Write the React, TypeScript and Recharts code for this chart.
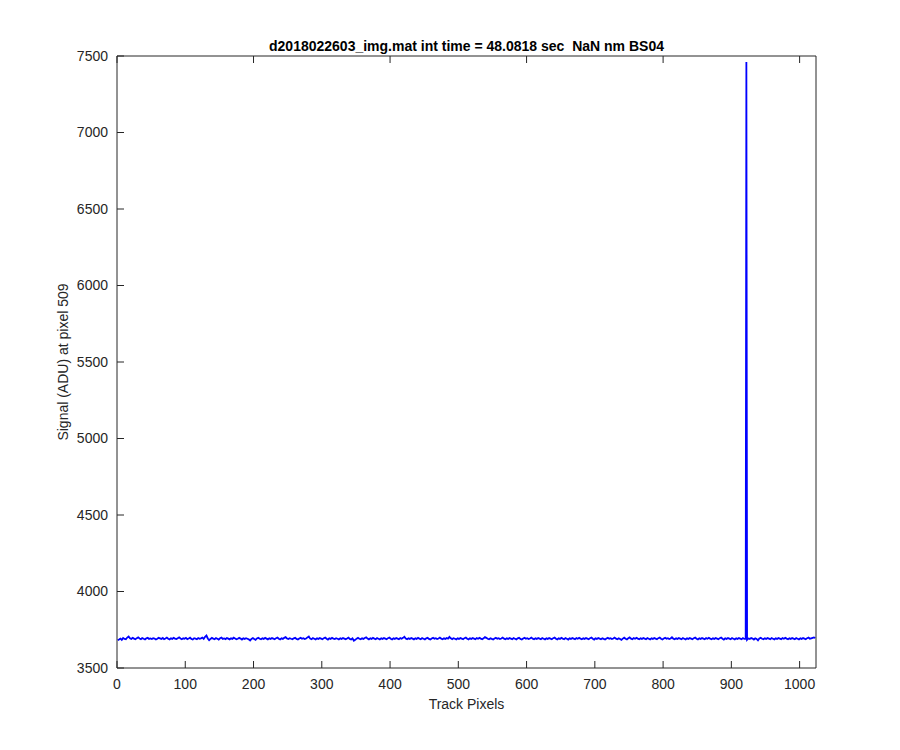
import React from 'react'
import { LineChart, Line, XAxis, YAxis } from 'recharts'

// signal sampled at every other track pixel (1, 3, 5, ... 1023)
const signal = [
  3681, 3686, 3692, 3684, 3696, 3690, 3688, 3699, 3706, 3694, 3690, 3697, 3692, 3688, 3695, 3700,
  3693, 3689, 3696, 3691, 3687, 3694, 3698, 3690, 3693, 3689, 3695, 3692, 3686, 3691, 3697, 3694,
  3690, 3696, 3688, 3693, 3699, 3691, 3687, 3694, 3690, 3697, 3692, 3689, 3695, 3700, 3693, 3688,
  3694, 3691, 3697, 3689, 3693, 3698, 3690, 3686, 3695, 3692, 3688, 3696, 3691, 3694, 3699, 3690,
  3704, 3712, 3693, 3682, 3690, 3697, 3692, 3688, 3695, 3691, 3686, 3694, 3699, 3690, 3693, 3689,
  3696, 3692, 3687, 3694, 3690, 3698, 3693, 3688, 3691, 3697, 3692, 3686, 3694, 3690, 3695, 3691,
  3687, 3680, 3690, 3696, 3689, 3684, 3693, 3698, 3691, 3688, 3694, 3690, 3697, 3692, 3687, 3694,
  3690, 3696, 3692, 3688, 3695, 3699, 3691, 3687, 3694, 3690, 3697, 3702, 3693, 3689, 3695, 3691,
  3688, 3694, 3698, 3690, 3686, 3693, 3697, 3691, 3695, 3689, 3693, 3700, 3706, 3692, 3688, 3695,
  3691, 3687, 3694, 3690, 3696, 3692, 3688, 3695, 3699, 3691, 3686, 3694, 3690, 3697, 3692, 3689,
  3695, 3691, 3687, 3694, 3690, 3696, 3692, 3688, 3693, 3699, 3690, 3686, 3694, 3678, 3684, 3692,
  3697, 3691, 3688, 3694, 3690, 3696, 3701, 3692, 3687, 3694, 3690, 3697, 3692, 3688, 3695, 3691,
  3687, 3694, 3690, 3696, 3692, 3688, 3695, 3699, 3691, 3687, 3694, 3690, 3696, 3692, 3688, 3695,
  3691, 3697, 3704, 3693, 3688, 3694, 3690, 3696, 3692, 3687, 3694, 3690, 3697, 3692, 3688, 3695,
  3691, 3687, 3694, 3698, 3690, 3686, 3693, 3697, 3691, 3695, 3689, 3693, 3699, 3692, 3688, 3694,
  3690, 3696, 3692, 3703, 3694, 3689, 3695, 3691, 3687, 3694, 3690, 3696, 3692, 3688, 3695, 3699,
  3691, 3687, 3694, 3690, 3696, 3692, 3688, 3695, 3691, 3697, 3692, 3688, 3694, 3702, 3697, 3691,
  3688, 3694, 3690, 3686, 3693, 3697, 3691, 3695, 3689, 3693, 3699, 3692, 3688, 3694, 3690, 3696,
  3692, 3688, 3695, 3691, 3687, 3694, 3698, 3690, 3686, 3693, 3697, 3691, 3695, 3689, 3693, 3699,
  3692, 3688, 3694, 3690, 3696, 3692, 3688, 3695, 3691, 3687, 3694, 3690, 3696, 3692, 3688, 3695,
  3699, 3691, 3687, 3694, 3690, 3697, 3692, 3688, 3695, 3691, 3686, 3694, 3690, 3696, 3692, 3688,
  3695, 3691, 3697, 3692, 3688, 3694, 3690, 3696, 3692, 3688, 3695, 3699, 3691, 3686, 3694, 3690,
  3696, 3692, 3688, 3694, 3690, 3686, 3693, 3697, 3691, 3695, 3689, 3693, 3699, 3692, 3688, 3694,
  3690, 3684, 3692, 3698, 3691, 3687, 3694, 3700, 3692, 3688, 3695, 3691, 3697, 3692, 3688, 3694,
  3690, 3696, 3692, 3688, 3695, 3691, 3687, 3694, 3690, 3696, 3692, 3688, 3695, 3699, 3691, 3686,
  3693, 3697, 3691, 3695, 3689, 3693, 3701, 3692, 3688, 3694, 3690, 3696, 3692, 3688, 3695, 3691,
  3687, 3694, 3690, 3696, 3692, 3688, 3695, 3699, 3691, 3687, 3694, 3690, 3696, 3692, 3688, 3695,
  3691, 3697, 3692, 3688, 3694, 3690, 3696, 3692, 3688, 3695, 3699, 3691, 3686, 3694, 3690, 3696,
  3692, 3688, 3695, 3691, 3687, 3694, 3690, 3696, 3692, 3688, 3695, 3690, 3691, 3684, 3693, 3690,
  3696, 3692, 3686, 3694, 3690, 3681, 3693, 3697, 3691, 3688, 3694, 3690, 3696, 3692, 3688, 3695,
  3691, 3687, 3694, 3690, 3696, 3692, 3688, 3695, 3691, 3697, 3692, 3688, 3694, 3690, 3696, 3692,
  3688, 3695, 3691, 3687, 3694, 3690, 3696, 3692, 3688, 3695, 3699, 3691, 3694, 3697, 3700, 3696,
]

const pixels = signal.map((_, i) => 1 + i * 2)

// the single hot pixel
const spikePixels = [922]
const spikeSignal = [7460]

const xTicks = [0, 100, 200, 300, 400, 500, 600, 700, 800, 900, 1000]
const yTicks = [3500, 4000, 4500, 5000, 5500, 6000, 6500, 7000, 7500]

const title = 'd2018022603_img.mat int time = 48.0818 sec  NaN nm BS04'
const xLabel = 'Track Pixels'
const yLabel = 'Signal (ADU) at pixel 509'

const data = [
  ...pixels.map((p, i) => ({ pixel: p, signal: signal[i] })),
  ...spikePixels.map((p, i) => ({ pixel: p, signal: spikeSignal[i] })),
].sort((a, b) => a.pixel - b.pixel)

const FONT = '"Liberation Sans", Arial, Helvetica, sans-serif'
const AXIS = '#262626'
const tickStyle = { fill: AXIS, fontSize: 14, fontFamily: FONT }

export default function App() {
  return (
    <div style={{ position: 'absolute', left: 0, top: 0, width: 900, height: 750, background: '#fff' }}>
      <LineChart width={900} height={750} data={data} margin={{ top: 36, right: 64, bottom: 42, left: 57 }}>
        <XAxis
          dataKey="pixel"
          type="number"
          domain={[0, 1024]}
          ticks={xTicks}
          height={40}
          tickSize={-7}
          tickMargin={18}
          stroke={AXIS}
          tick={tickStyle}
          interval={0}
        />
        <XAxis
          xAxisId="top"
          orientation="top"
          type="number"
          domain={[0, 1024]}
          ticks={xTicks}
          height={20}
          tickSize={-7}
          stroke={AXIS}
          tickFormatter={() => ''}
          interval={0}
        />
        <YAxis
          type="number"
          domain={[3500, 7500]}
          ticks={yTicks}
          width={60}
          tickSize={-7}
          tickMargin={16}
          stroke={AXIS}
          tick={tickStyle}
          interval={0}
        />
        <YAxis
          yAxisId="right"
          orientation="right"
          type="number"
          domain={[3500, 7500]}
          ticks={yTicks}
          width={20}
          tickSize={-7}
          stroke={AXIS}
          tickFormatter={() => ''}
          interval={0}
        />
        <Line
          type="linear"
          dataKey="signal"
          stroke="#0000ff"
          strokeWidth={1.8}
          dot={false}
          isAnimationActive={false}
        />
      </LineChart>
      <svg
        width={900}
        height={750}
        style={{ position: 'absolute', left: 0, top: 0, pointerEvents: 'none' }}
      >
        <text
          x={466.5}
          y={51}
          textAnchor="middle"
          fontFamily={FONT}
          fontSize={14}
          fontWeight="bold"
          fill="#000"
          style={{ whiteSpace: 'pre' }}
        >
          {title}
        </text>
        <text x={466.5} y={709} textAnchor="middle" fontFamily={FONT} fontSize={14} fill={AXIS}>
          {xLabel}
        </text>
        <text
          transform="translate(68,362) rotate(-90)"
          textAnchor="middle"
          fontFamily={FONT}
          fontSize={14}
          fill={AXIS}
        >
          {yLabel}
        </text>
      </svg>
    </div>
  )
}
